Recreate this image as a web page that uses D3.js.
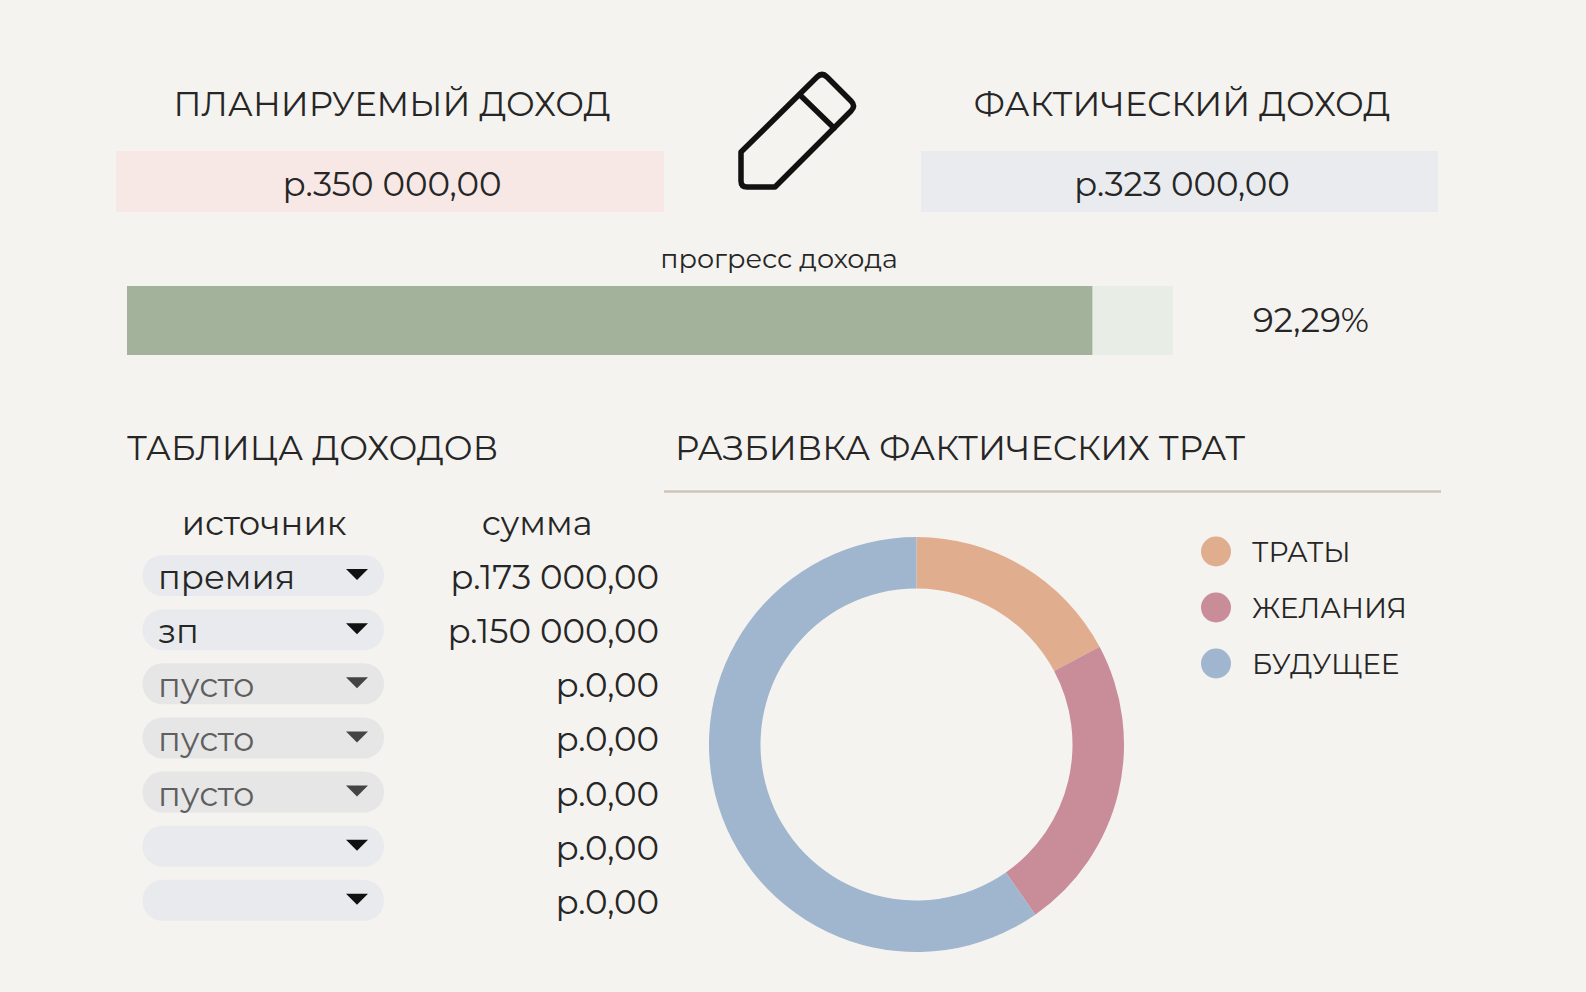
<!DOCTYPE html>
<html>
<head>
<meta charset="utf-8">
<script src="https://cdn.jsdelivr.net/npm/d3@7"></script>
<style>
html, body { margin: 0; padding: 0; background: #f5f3ef; overflow: hidden; }
text { font-family: Montserrat, "Open Sans", "Noto Sans", sans-serif; }
</style>
</head>
<body>
<svg id="chart" width="1586" height="992"></svg>
<script>
const planLabel = "ПЛАНИРУЕМЫЙ ДОХОД";
const factLabel = "ФАКТИЧЕСКИЙ ДОХОД";
const planValue = "р.350 000,00";
const factValue = "р.323 000,00";
const progressLabel = "прогресс дохода";
const progressValue = 92.29;
const progressText = "92,29%";
const tableTitle = "ТАБЛИЦА ДОХОДОВ";
const donutTitle = "РАЗБИВКА ФАКТИЧЕСКИХ ТРАТ";
const tableHeads = ["источник", "сумма"];
const sources = ["премия", "зп", "пусто", "пусто", "пусто", "", ""];
const amounts = ["р.173 000,00", "р.150 000,00", "р.0,00", "р.0,00", "р.0,00", "р.0,00", "р.0,00"];
const categories = ["ТРАТЫ", "ЖЕЛАНИЯ", "БУДУЩЕЕ"];
const shares = [17.2, 23.1, 59.7];
const colors = ["#e0ae8f", "#c98c99", "#9fb6ce"];

const svg = d3.select("#chart");

function label(x, y, txt, size, anchor, fill) {
    return svg.append("text")
        .attr("x", x).attr("y", y)
        .attr("font-size", size)
        .attr("text-anchor", anchor || "start")
        .style("fill", fill || "#262626")
        .text(txt);
}

//top boxes
svg.append("rect").attr("x", 116).attr("y", 151).attr("width", 548).attr("height", 61).attr("fill", "#f7e8e5");
svg.append("rect").attr("x", 921).attr("y", 151).attr("width", 517).attr("height", 61).attr("fill", "#eaebee");
label(392, 116, planLabel, 33.9, "middle");
label(1182, 116, factLabel, 33.9, "middle");
label(392, 196, planValue, 34, "middle");
label(1182, 196, factValue, 34, "middle");

//pencil
const pencil = svg.append("g")
    .attr("fill", "none").attr("stroke", "#111").attr("stroke-width", 5.5)
    .attr("stroke-linejoin", "round").attr("stroke-linecap", "round");
pencil.append("path").attr("d", "M817 77 Q822 72 827 77 L851 101 Q856 106 851 111 L775 187 L747 187 Q741 187 741 181 L741 152 Z");
pencil.append("path").attr("d", "M800 95 L834 128");

//progress bar
label(779, 268, progressLabel, 27, "middle");
const progressX = d3.scaleLinear().domain([0, 100]).range([127, 1173]);
svg.append("rect").attr("x", progressX(0)).attr("y", 286)
    .attr("width", progressX(100) - progressX(0)).attr("height", 69).attr("fill", "#e8ede6");
svg.append("rect").attr("x", progressX(0)).attr("y", 286)
    .attr("width", progressX(progressValue) - progressX(0)).attr("height", 69).attr("fill", "#a3b29a");
label(1311, 332, progressText, 34, "middle");

//table
label(127, 460, tableTitle, 34);
label(264, 535, tableHeads[0], 33.8, "middle");
label(537, 535, tableHeads[1], 33.8, "middle");
const rowY = d3.scaleBand().domain(d3.range(sources.length)).range([553, 932]).padding(0);
sources.forEach(function (s, i) {
    const y = rowY(i);
    svg.append("rect").attr("x", 142.5).attr("y", y + 2).attr("width", 241.5).attr("height", 41)
        .attr("rx", 20).attr("fill", s === "пусто" ? "#e6e6e6" : "#e9eaed");
    label(158, y + 36, s, 33.8, "start", s === "пусто" ? "#5f5f5f" : "#262626");
    svg.append("path")
        .attr("d", "M346 " + (y + 16) + " h22 l-11 11 Z")
        .attr("fill", s === "пусто" ? "#444" : "#111");
    label(659, y + 36, amounts[i], 34, "end");
});

//donut
label(675, 460, donutTitle, 34);
svg.append("line").attr("x1", 664).attr("x2", 1441).attr("y1", 491.5).attr("y2", 491.5)
    .attr("stroke", "#cfc4b8").attr("stroke-width", 2.5);
const pie = d3.pie().sort(null)(shares);
const arc = d3.arc().innerRadius(156).outerRadius(207.5);
const donut = svg.append("g").attr("transform", "translate(916.5,744.5)");
donut.selectAll("path").data(pie).enter().append("path")
    .attr("d", arc)
    .attr("fill", function (d, i) { return colors[i]; });

//legend
const legendY = d3.scalePoint().domain(categories).range([551.5, 663.5]);
categories.forEach(function (c, i) {
    svg.append("circle").attr("cx", 1216).attr("cy", legendY(c)).attr("r", 15).attr("fill", colors[i]);
    label(1252, legendY(c) + 10, c, 28);
});
</script>
</body>
</html>
